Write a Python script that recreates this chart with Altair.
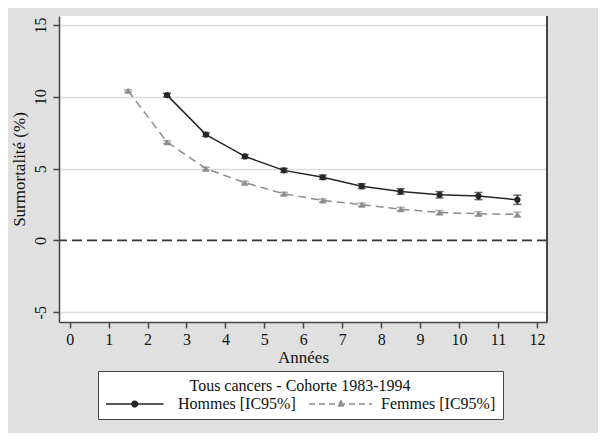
import altair as alt
import pandas as pd

# ---- data ----
years_h = [2.5, 3.5, 4.5, 5.5, 6.5, 7.5, 8.5, 9.5, 10.5, 11.5]
hommes = [10.12, 7.37, 5.85, 4.88, 4.40, 3.78, 3.41, 3.18, 3.09, 2.83]
hommes_ci = [0.12, 0.13, 0.13, 0.14, 0.15, 0.17, 0.19, 0.22, 0.25, 0.32]

years_f = [1.5, 2.5, 3.5, 4.5, 5.5, 6.5, 7.5, 8.5, 9.5, 10.5, 11.5]
femmes = [10.42, 6.85, 5.00, 4.02, 3.25, 2.79, 2.49, 2.18, 1.95, 1.86, 1.81]
femmes_ci = [0.08, 0.09, 0.09, 0.09, 0.10, 0.10, 0.11, 0.12, 0.13, 0.14, 0.16]

x_ticks = list(range(0, 13))
y_ticks = [-5, 0, 5, 10, 15]

series = ["Hommes [IC95%]", "Femmes [IC95%]"]
legend_title = "Tous cancers - Cohorte 1983-1994"

rows = []
for a, v, c in zip(years_h, hommes, hommes_ci):
    rows.append({"annee": a, "taux": v, "lo": v - c, "hi": v + c, "serie": series[0]})
for a, v, c in zip(years_f, femmes, femmes_ci):
    rows.append({"annee": a, "taux": v, "lo": v - c, "hi": v + c, "serie": series[1]})
df = pd.DataFrame(rows)

FONT = "Liberation Serif"
DARK = "#262626"
GREY = "#8c8c8c"
W, H = 488, 306

xscale = alt.Scale(domain=[-0.275, 12.26], nice=False, zero=False)
yscale = alt.Scale(domain=[-5.68, 15.63], nice=False, zero=False)

xax = alt.Axis(values=x_ticks, title="Années", grid=False, labelFontSize=16,
               titleFontSize=17, titleFontWeight="normal", tickSize=6,
               labelPadding=3, titlePadding=2, labelFont=FONT, titleFont=FONT,
               domainColor="#444", tickColor="#444", domainWidth=1.5, tickWidth=1.5,
               labelColor="#111", titleColor="#111")
yax = alt.Axis(values=y_ticks, title="Surmortalité (%)", grid=True,
               labelExpr="toString(datum.value)",
               gridColor={"condition": {"test": "datum.value === 0", "value": "white"}, "value": "#dedede"},
               gridWidth=1.5, labelAngle=270, labelAlign="center", labelBaseline="bottom",
               labelFontSize=16, titleFontSize=17, titleFontWeight="normal", tickSize=6,
               labelPadding=5, titlePadding=4, labelFont=FONT, titleFont=FONT,
               domainColor="#444", tickColor="#444", domainWidth=1.5, tickWidth=1.5,
               labelColor="#111", titleColor="#111")

base = alt.Chart(df)
X = alt.X("annee:Q", scale=xscale, axis=xax)
Y = alt.Y("taux:Q", scale=yscale, axis=yax)

zero = alt.Chart(pd.DataFrame({"z": [0]})).mark_rule(
    color="#333", strokeWidth=1.8, strokeDash=[10, 5]).encode(y=alt.Y("z:Q", scale=yscale, axis=yax))

def series_layers(name, color, dash, shape, size):
    d = base.transform_filter(alt.datum.serie == name)
    line_kw = dict(color=color, strokeWidth=1.5)
    if dash:
        line_kw["strokeDash"] = dash
    line = d.mark_line(**line_kw).encode(x=X, y=Y)
    rule = d.mark_rule(color=color, strokeWidth=1.5).encode(x=X, y=alt.Y("lo:Q", scale=yscale, axis=yax), y2="hi:Q")
    cap_lo = d.mark_tick(color=color, orient="horizontal", size=8, thickness=1.5).encode(
        x=X, y=alt.Y("lo:Q", scale=yscale, axis=yax))
    cap_hi = d.mark_tick(color=color, orient="horizontal", size=8, thickness=1.5).encode(
        x=X, y=alt.Y("hi:Q", scale=yscale, axis=yax))
    pts = d.mark_point(shape=shape, filled=True, size=size, color=color, opacity=1).encode(x=X, y=Y)
    return [line, rule, cap_lo, cap_hi, pts]

layers = [zero]
layers += series_layers(series[0], DARK, None, "circle", 38)
layers += series_layers(series[1], GREY, [8, 5], "triangle-up", 50)

# legend-only layer (no marks drawn); symbol paths are wide lines with a marker
path_h = ("M-1,0H6.2M2.25,0A0.35,0.35,0,1,0,2.95,0A0.35,0.35,0,1,0,2.25,0Z")
path_f = ("M-1,0H6.9M2.6,0.25L3.4,0.25L3.0,-0.38Z")
leg = alt.Legend(title=legend_title, orient="none", legendX=39, legendY=355,
                 direction="horizontal", columns=2, columnPadding=10,
                 titleAnchor="middle", titleFontSize=16, titleFont=FONT, titleLimit=500,
                 titleFontWeight="normal", titleColor="#111", titlePadding=1,
                 labelFontSize=16, labelFont=FONT, labelColor="#111", labelOffset=55,
                 labelLimit=300, symbolSize=256, symbolStrokeWidth=1.5, symbolOpacity=1,
                 strokeColor="#444", fillColor="white", padding=7)
sc = alt.Scale(domain=series, range=[DARK, GREY])
legend_layer = base.transform_filter("false").mark_point(filled=True, opacity=1).encode(
    x=X, y=Y,
    fill=alt.Fill("serie:N", scale=sc, legend=leg, sort=series),
    stroke=alt.Stroke("serie:N", scale=sc, legend=leg, sort=series),
    shape=alt.Shape("serie:N", scale=alt.Scale(domain=series, range=[path_h, path_f]), legend=leg, sort=series),
    strokeDash=alt.StrokeDash("serie:N", scale=alt.Scale(domain=series, range=[[1, 0], [6, 4]]), legend=leg, sort=series),
)
layers.append(legend_layer)

frame = alt.Chart(pd.DataFrame({"k": [0]})).mark_rule(color="#444", strokeWidth=2).encode(
    x=alt.value(W), y=alt.value(0), y2=alt.value(H))
layers.append(frame)

chart = alt.layer(*layers).properties(
    width=W, height=H,
    autosize=alt.AutoSizeParams(type="none"),
    padding={"left": 51, "top": 8, "right": 51, "bottom": 111},
    background="#e0e0e0",
).configure(font=FONT).configure_axis(
    labelFont=FONT, titleFont=FONT
).configure_legend(labelFont=FONT, titleFont=FONT).configure_view(stroke=None, fill="white")

chart.save("out.html", embed_options={"renderer": "svg", "actions": False})
